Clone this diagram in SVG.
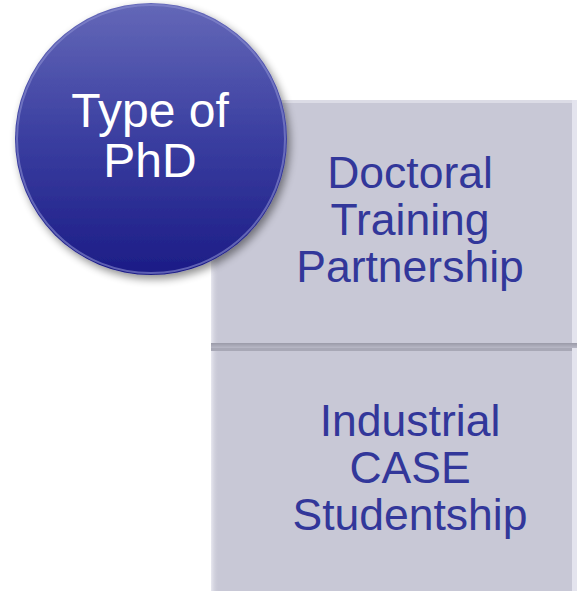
<svg xmlns="http://www.w3.org/2000/svg" width="578" height="591" viewBox="0 0 578 591">
<style>
.box{fill:#c8c8d6;}
.btxt{font-family:"Liberation Sans",Arial,sans-serif;font-size:44.5px;fill:#32379a;text-anchor:middle;}
.ctxt{font-family:"Liberation Sans",Arial,sans-serif;font-size:48px;fill:#ffffff;text-anchor:middle;}
</style>
<defs>
<linearGradient id="cg" x1="0" y1="0" x2="0" y2="1">
<stop offset="0" stop-color="#6468b8"/>
<stop offset="0.5" stop-color="#3a3ea0"/>
<stop offset="1" stop-color="#1c1c86"/>
</linearGradient>
<linearGradient id="bl" x1="0" y1="0" x2="1" y2="0">
<stop offset="0" stop-color="#e8e8f0"/>
<stop offset="1" stop-color="#c8c8d6" stop-opacity="0"/>
</linearGradient>
<linearGradient id="bb" x1="0" y1="0" x2="0" y2="1">
<stop offset="0" stop-color="#9a9aa8"/>
<stop offset="1" stop-color="#b8b8c6"/>
</linearGradient>
<filter id="sh" x="-20%" y="-20%" width="140%" height="140%">
<feGaussianBlur in="SourceAlpha" stdDeviation="4"/>
<feOffset dx="3" dy="4" result="b"/>
<feComponentTransfer><feFuncA type="linear" slope="0.45"/></feComponentTransfer>
<feMerge><feMergeNode/><feMergeNode in="SourceGraphic"/></feMerge>
</filter>
</defs>
<g id="box-dtp">
<rect class="box" x="211" y="100" width="366" height="248"/>
<rect x="211" y="100" width="8" height="248" fill="url(#bl)"/>
<rect x="211" y="100" width="366" height="3" fill="#dcdce6"/>
<rect x="572" y="100" width="5" height="248" fill="#e4e4ee"/>
<rect x="211" y="343" width="366" height="5" fill="url(#bb)"/>
<text class="btxt" x="410" y="188">Doctoral</text>
<text class="btxt" x="410" y="235">Training</text>
<text class="btxt" x="410" y="282">Partnership</text>
</g>
<g id="box-case">
<rect class="box" x="211" y="348" width="366" height="243"/>
<rect x="211" y="348" width="8" height="243" fill="url(#bl)"/>
<rect x="211" y="348" width="366" height="3" fill="#a8a8b6"/>
<rect x="572" y="348" width="5" height="243" fill="#e4e4ee"/>
<text class="btxt" x="410" y="436">Industrial</text>
<text class="btxt" x="410" y="483">CASE</text>
<text class="btxt" x="410" y="530">Studentship</text>
</g>
<g id="circle-type">
<circle cx="151" cy="139" r="136" fill="url(#cg)" filter="url(#sh)"/>
<circle cx="151" cy="139" r="134" fill="none" stroke="#8a8ed0" stroke-width="2" stroke-opacity="0.6"/>
<text class="ctxt" x="150" y="127">Type of</text>
<text class="ctxt" x="150" y="177">PhD</text>
</g>
</svg>
